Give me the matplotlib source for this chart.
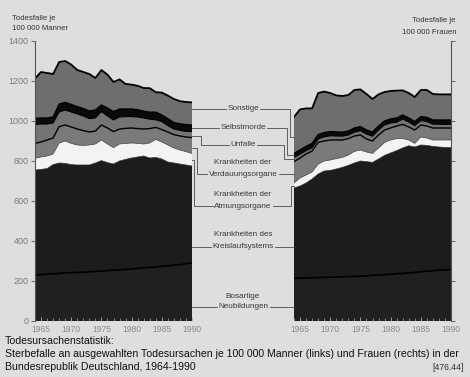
import matplotlib
matplotlib.use("Agg")
import matplotlib.pyplot as plt
import numpy as np
from matplotlib.lines import Line2D

# ---------------- data (deaths per 100 000) ----------------
years = list(range(1964, 1991))
year_ticks = [1965, 1970, 1975, 1980, 1985, 1990]
y_ticks = [0, 200, 400, 600, 800, 1000, 1200, 1400]

# Männer (links)
m_neubildungen = [230, 232, 234, 236, 238, 240, 242, 243, 244, 246, 248, 250, 252, 254, 256, 258, 260, 263, 266, 268, 270, 273, 276, 279, 282, 286, 290]
m_kreislauf = [525, 526, 528, 546, 552, 548, 540, 537, 536, 534, 542, 552, 540, 531, 544, 550, 555, 557, 559, 547, 548, 537, 519, 511, 503, 494, 485]
m_atmung = [58, 62, 63, 53, 100, 112, 106, 100, 98, 100, 95, 103, 93, 82, 85, 80, 75, 68, 60, 75, 90, 85, 85, 75, 70, 67, 63]
m_verdauung = [75, 75, 80, 80, 82, 80, 82, 80, 74, 65, 65, 75, 80, 80, 75, 75, 75, 74, 75, 72, 60, 62, 65, 67, 70, 73, 79]
m_unfaelle = [95, 90, 80, 75, 73, 75, 75, 75, 73, 67, 65, 67, 60, 58, 60, 59, 57, 58, 55, 47, 38, 40, 32, 28, 28, 28, 30]
m_selbstmorde = [30, 30, 30, 30, 40, 38, 38, 37, 37, 38, 40, 33, 40, 42, 40, 38, 38, 36, 34, 35, 38, 33, 35, 32, 33, 34, 33]
m_sonstige = [200, 230, 225, 215, 210, 207, 199, 183, 183, 185, 160, 175, 167, 148, 148, 125, 122, 120, 116, 120, 100, 112, 115, 118, 113, 113, 113]

# Frauen (rechts)
f_neubildungen = [213, 214, 215, 216, 217, 218, 219, 220, 221, 222, 223, 224, 226, 228, 230, 232, 234, 236, 238, 240, 243, 246, 249, 252, 254, 256, 258]
f_kreislauf = [452, 461, 475, 494, 518, 532, 534, 540, 547, 556, 567, 576, 571, 565, 580, 596, 606, 616, 627, 636, 627, 634, 629, 621, 616, 612, 609]
f_atmung = [25, 40, 40, 35, 50, 50, 52, 52, 50, 52, 58, 55, 48, 45, 55, 65, 65, 60, 47, 29, 18, 40, 37, 32, 35, 37, 38]
f_verdauung = [107, 100, 105, 105, 108, 100, 100, 93, 87, 82, 77, 75, 65, 62, 65, 62, 60, 63, 71, 65, 67, 60, 60, 60, 60, 60, 60]
f_unfaelle = [21, 19, 17, 16, 17, 21, 21, 20, 19, 18, 19, 22, 25, 24, 25, 25, 25, 19, 27, 25, 22, 22, 22, 19, 19, 18, 18]
f_selbstmorde = [20, 21, 21, 22, 22, 21, 21, 21, 20, 20, 21, 20, 20, 21, 20, 20, 20, 21, 20, 20, 20, 20, 21, 21, 21, 22, 22]
f_sonstige = [182, 203, 190, 175, 208, 205, 193, 182, 181, 180, 190, 186, 180, 165, 158, 145, 140, 137, 123, 125, 123, 133, 137, 130, 128, 128, 128]

labels = [
    ("Sonstige",),
    ("Selbstmorde",),
    ("Unfalle",),
    ("Krankheiten der", "Verdauungsorgane"),
    ("Krankheiten der", "Atmungsorgane"),
    ("Krankheiten des", "Kreislaufsystems"),
    ("Bosartige", "Neubildungen"),
]

# ---------------- style ----------------
BG = "#dedede"
layer_colors = ["#202020", "#1c1c1c", "#f3f3f3", "#7a7a7a", "#747474", "#0a0a0a", "#6e6e6e"]
line_styles = [("#000000", 1.2), ("#222222", 0.5), ("#444444", 0.5), ("#000000", 1.0),
               ("#000000", 0.8), ("#000000", 1.0), ("#000000", 1.3)]
plt.rcParams["font.family"] = ["Liberation Sans", "DejaVu Sans"]

W, H = 470, 377
fig = plt.figure(figsize=(W / 100, H / 100), dpi=100, facecolor=BG)


def fx(px):
    return px / W


def fy(py):
    return 1 - py / H


def make_axes(left_px):
    ax = fig.add_axes([fx(left_px), fy(321), 157 / W, 280 / H])
    ax.set_facecolor(BG)
    ax.set_xlim(years[0], years[-1])
    ax.set_ylim(0, 1400)
    for s in ax.spines.values():
        s.set_visible(False)
    ax.set_xticks(year_ticks)
    ax.set_xticks(years, minor=True)
    ax.set_xticklabels([str(y) for y in year_ticks])
    ax.tick_params(axis="x", which="both", direction="in", colors="#b0b0b0",
                   labelcolor="#8a8a8a", labelsize=6.2, pad=3)
    ax.tick_params(axis="x", which="major", length=3, width=0.6)
    ax.tick_params(axis="x", which="minor", length=2, width=0.5)
    ax.set_yticks(y_ticks)
    return ax


def draw_stack(ax, layers):
    ax.stackplot(years, *layers, colors=layer_colors, linewidth=0)
    cum = np.cumsum(np.array(layers, dtype=float), axis=0)
    for i, (c, lw) in enumerate(line_styles):
        ax.plot(years, cum[i], color=c, lw=lw, solid_joinstyle="round")


axL = make_axes(35)
draw_stack(axL, [m_neubildungen, m_kreislauf, m_atmung, m_verdauung,
                 m_unfaelle, m_selbstmorde, m_sonstige])
axL.spines["left"].set_visible(True)
axL.spines["left"].set_color("#555555")
axL.spines["left"].set_linewidth(0.8)
axL.tick_params(axis="y", direction="out", length=3, width=0.6, colors="#555555",
                labelcolor="#7a7a7a", labelsize=6.5, pad=1.5)

axR = make_axes(294)
draw_stack(axR, [f_neubildungen, f_kreislauf, f_atmung, f_verdauung,
                 f_unfaelle, f_selbstmorde, f_sonstige])
axR.spines["right"].set_visible(True)
axR.spines["right"].set_color("#555555")
axR.spines["right"].set_linewidth(0.8)
axR.yaxis.tick_right()
axR.tick_params(axis="y", direction="out", length=3, width=0.6, colors="#555555",
                labelright=False, labelleft=False)

# ---------------- headers ----------------
hdr = dict(fontsize=5.6, color="#333333", va="center")
fig.text(fx(12), fy(18), "Todesfalle je", ha="left", **hdr)
fig.text(fx(12), fy(29), "100 000 Manner", ha="left", **hdr)
fig.text(fx(456), fy(20), "Todesfalle je", ha="right", **hdr)
fig.text(fx(456), fy(32), "100 000 Frauen", ha="right", **hdr)

# ---------------- middle labels with leader lines ----------------
label_y = [[109], [128], [145], [163, 174], [195, 206], [235, 246], [296, 307]]
left_paths = [
    [(192, 109)],
    [(192, 128)],
    [(192, 136), (201, 136), (201, 145)],
    [(192, 148), (197, 148), (197, 174)],
    [(192, 160), (194, 160), (194, 206)],
    [(192, 247)],
    [(192, 307)],
]
right_paths = [
    [(290, 109), (290, 137), (294, 137)],
    [(287, 128), (287, 155), (294, 155)],
    [(284, 145), (284, 159), (294, 159)],
    [(294, 174)],
    [(291, 206), (291, 186), (294, 186)],
    [(294, 247)],
    [(294, 307)],
]
cx = 243
texts = []
for lab, ys in zip(labels, label_y):
    row = []
    for t, yy in zip(lab, ys):
        row.append(fig.text(fx(cx), fy(yy), t, ha="center", va="center",
                            fontsize=5.9, color="#383838"))
    texts.append(row)

fig.canvas.draw()
renderer = fig.canvas.get_renderer()
lc = "#4a4a4a"
for row, lp, rp in zip(texts, left_paths, right_paths):
    t = row[-1]
    bb = t.get_window_extent(renderer)
    x0 = bb.x0 - 1.5
    x1 = bb.x1 + 1.5
    ty = lp[-1][1]
    ty2 = rp[0][1]
    ptsL = lp + [(x0, ty)]
    ptsR = [(x1, ty2)] + rp
    for pts in (ptsL, ptsR):
        xs = [fx(p[0]) for p in pts]
        ys_ = [fy(p[1]) for p in pts]
        fig.add_artist(Line2D(xs, ys_, transform=fig.transFigure, color=lc, lw=0.6))

# ---------------- caption ----------------
cap = dict(fontsize=7.55, color="#111111", va="center", ha="left")
fig.text(fx(5), fy(341.5), "Todesursachenstatistik:", **cap)
fig.text(fx(5), fy(354), "Sterbefalle an ausgewahlten Todesursachen je 100 000 Manner (links) und Frauen (rechts) in der", **cap)
fig.text(fx(5), fy(366.5), "Bundesrepublik Deutschland, 1964-1990", **cap)
fig.text(fx(464), fy(368), "[476.44]", fontsize=6.2, color="#333333", va="center", ha="right")

fig.savefig("out.png", dpi=100, facecolor=BG)
